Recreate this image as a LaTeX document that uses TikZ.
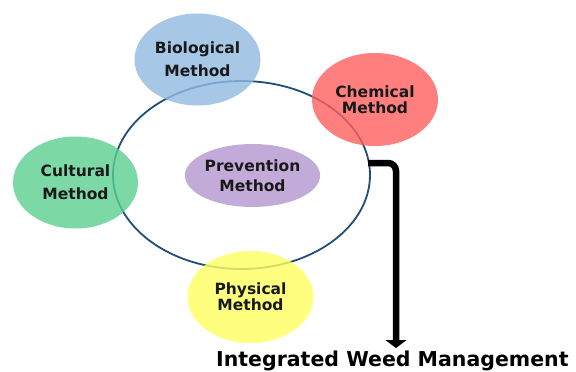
\documentclass[tikz,border=0pt]{standalone}
\usepackage{fontspec}
\usetikzlibrary{arrows.meta,shapes.geometric}
\newfontfamily\labfont{DejaVu Sans Bold}
\definecolor{ringblue}{HTML}{1F4E79}
\definecolor{bioc}{HTML}{92BAE2}
\definecolor{chemc}{HTML}{FF5F5F}
\definecolor{cultc}{HTML}{5CCF8E}
\definecolor{physc}{HTML}{FFFF60}
\definecolor{prevc}{HTML}{B497D0}
\tikzset{
  method/.style={ellipse, fill=#1, fill opacity=0.8, text opacity=1, inner sep=0pt, align=center, font=\labfont\fontsize{15.5}{17}\selectfont, text=black!90},
  ring/.style={draw=ringblue, line width=1.8pt, ellipse, inner sep=0pt}
}
\begin{document}
\begin{tikzpicture}[x=1pt,y=-1pt]
\useasboundingbox (0,0) rectangle (576,372);
\fill[white] (0,0) rectangle (576,372);
% big ring
\node[ring, minimum width=257pt, minimum height=188pt] (ring) at (241.5,175) {};
% inner
\node[method=prevc, minimum width=117pt, minimum height=63pt] (prev) at (252.5,175.5) {Prevention\\[3pt]Method};
% outer methods
\node[method=bioc, minimum width=126pt, minimum height=92pt] (bio) at (197.5,59.5) {Biological\\[6pt]Method};
\node[method=chemc, minimum width=126pt, minimum height=93pt] (chem) at (375,99.5) {Chemical\\[-1pt]Method};
\node[method=cultc, minimum width=125pt, minimum height=92pt] (cult) at (75.5,182.5) {Cultural\\[6pt]Method};
\node[method=physc, minimum width=126pt, minimum height=92pt] (phys) at (250.5,297) {Physical\\[-1pt]Method};
% output label
\node[font=\labfont\fontsize{20.5}{24}\selectfont, anchor=base west, inner sep=0pt] (iwm) at (216,366) {Integrated Weed Management};
% arrow
\coordinate (start) at (368,163);
\coordinate (corner) at (396,163);
\coordinate (tip) at (396,348);
\draw[line width=6.5pt, rounded corners=8pt, -{Triangle[width=21pt,length=8pt]}] (start) -- (corner) -- (tip);
\end{tikzpicture}
\end{document}
